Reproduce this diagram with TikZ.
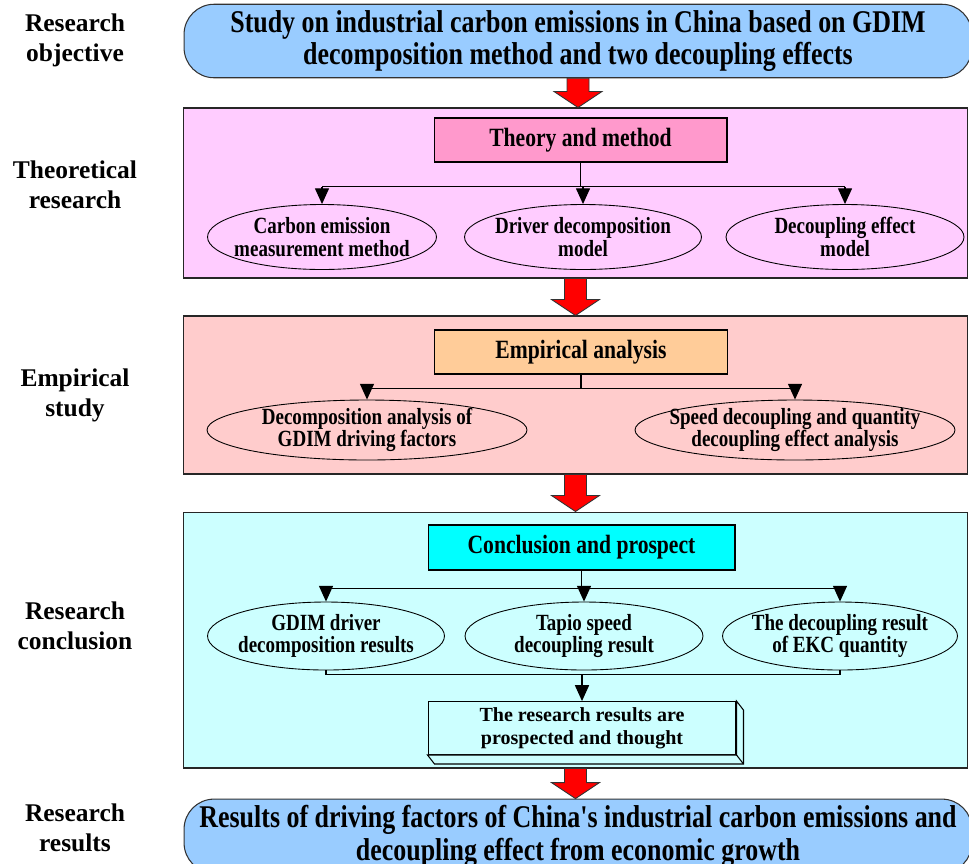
\documentclass[tikz,border=0pt]{standalone}
\usepackage{fontspec}
\setmainfont{Liberation Serif}
\newfontfamily\condfont{Liberation Serif}[FakeStretch=0.82]
\usetikzlibrary{shapes.geometric,arrows.meta,calc}

\definecolor{skyblue}{HTML}{99CCFF}
\definecolor{lilac}{HTML}{FFCCFF}
\definecolor{rosebg}{HTML}{FFCCCC}
\definecolor{icebg}{HTML}{CCFFFF}
\definecolor{pinkbox}{HTML}{FF99CC}
\definecolor{peachbox}{HTML}{FFCC99}
\definecolor{aquabox}{HTML}{00FFFF}

\tikzset{
  sidelabel/.style={align=center, font={\fontsize{14.5}{17}\selectfont\bfseries}},
  topic/.style={draw=black!80, line width=0.6pt, fill=skyblue, rounded corners=0.6cm,
    minimum width=15.76cm, minimum height=1.24cm, align=center,
    font={\condfont\fontsize{18}{18.7}\selectfont\bfseries}},
  panel/.style={draw=black!85, line width=0.6pt, minimum width=15.7cm, inner sep=0pt},
  headbox/.style={draw, line width=0.6pt, minimum width=5.86cm, minimum height=0.88cm,
    font={\condfont\fontsize{15}{16}\selectfont\bfseries}},
  item/.style={draw, ellipse, line width=0.5pt, inner xsep=-12mm, inner ysep=-5mm, align=center,
    font={\condfont\fontsize{13.2}{12.8}\selectfont\bfseries}},
  link/.style={line width=0.7pt},
  tip/.style={-{Triangle[length=9pt,width=8pt]}},
  bigarrow/.style={draw=black!80, fill=red, line width=0.5pt}
}

% red block arrow between two stacked nodes
\newcommand\bigdown[2]{%
  \filldraw[bigarrow] let \p1=(#1.south), \p2=(#2.north) in
    (\x1-0.22cm,\y1) -- (\x1+0.22cm,\y1) -- (\x1+0.22cm,\y2+0.32cm) -- (\x1+0.48cm,\y2+0.32cm)
    -- (\x1,\y2) -- (\x1-0.48cm,\y2+0.32cm) -- (\x1-0.22cm,\y2+0.32cm) -- cycle;}

\begin{document}
\begin{tikzpicture}[x=0.02cm,y=-0.02cm]
  \useasboundingbox (0,0) rectangle (969,863);
  \clip (0,0) rectangle (969,863);

  % stage names
  \node[sidelabel] (lobj) at (75,40) {Research\\objective};
  \node[sidelabel] (lthe) at (75,185) {Theoretical\\research};
  \node[sidelabel] (lemp) at (75,395) {Empirical\\study};
  \node[sidelabel] (lcon) at (75,626) {Research\\conclusion};
  \node[sidelabel] (lres) at (75,828) {Research\\results};

  % objective
  \node[topic] (obj) at (578,41) {Study on industrial carbon emissions in China based on GDIM\\decomposition method and two decoupling effects};

  % theoretical research
  \node[panel, fill=lilac, minimum height=3.4cm] (p1) at (575.5,193) {};
  \node[headbox, fill=pinkbox] (tm) at (580.5,140) {Theory and method};
  \node[item, minimum width=4.58cm, minimum height=1.3cm] (e11) at (322,237) {Carbon emission\\measurement method};
  \node[item, minimum width=4.74cm, minimum height=1.3cm] (e12) at (583,237) {Driver decomposition\\model};
  \node[item, minimum width=4.76cm, minimum height=1.3cm] (e13) at (845,237) {Decoupling effect\\model};
  \coordinate (br1) at ($(tm.south)+(0,24)$);
  \draw[link] (tm.south) -- (br1);
  \draw[link] (e11.north |- br1) -- (e13.north |- br1);
  \foreach \e in {e11,e12,e13} \draw[link,tip] (\e.north |- br1) -- (\e.north);

  % empirical study
  \node[panel, fill=rosebg, minimum height=3.16cm] (p2) at (575.5,395) {};
  \node[headbox, fill=peachbox] (ea) at (581,352) {Empirical analysis};
  \node[item, minimum width=6.4cm, minimum height=1.2cm] (e21) at (367,430) {Decomposition analysis of\\GDIM driving factors};
  \node[item, minimum width=6.4cm, minimum height=1.2cm] (e22) at (795,430) {Speed decoupling and quantity\\decoupling effect analysis};
  \coordinate (br2) at ($(ea.south)+(0,14)$);
  \draw[link] (ea.south) -- (br2);
  \draw[link] (e21.north |- br2) -- (e22.north |- br2);
  \foreach \e in {e21,e22} \draw[link,tip] (\e.north |- br2) -- (\e.north);

  % research conclusion
  \node[panel, fill=icebg, minimum height=5.12cm] (p3) at (575.5,640) {};
  \node[headbox, fill=aquabox, minimum width=6.14cm, minimum height=0.9cm] (cp) at (581.5,547.5) {Conclusion and prospect};
  \node[item, minimum width=4.74cm, minimum height=1.36cm] (e31) at (326,636) {GDIM driver\\decomposition results};
  \node[item, minimum width=4.76cm, minimum height=1.36cm] (e32) at (584,636) {Tapio speed\\decoupling result};
  \node[item, minimum width=4.7cm, minimum height=1.36cm] (e33) at (840,636) {The decoupling result\\of EKC quantity};
  \coordinate (br3) at ($(cp.south)+(0,18)$);
  \draw[link] (cp.south) -- (br3);
  \draw[link] (e31.north |- br3) -- (e33.north |- br3);
  \foreach \e in {e31,e32,e33} \draw[link,tip] (\e.north |- br3) -- (\e.north);
  \node[draw, line width=0.6pt, fill=icebg, minimum width=6.16cm, minimum height=0.98cm, align=center,
    font={\fontsize{11.4}{13}\selectfont\bfseries}] (pt) at (582,728) {The research results are\\prospected and thought};
  \draw[line width=0.6pt, fill=icebg] (pt.north east) -- ($(pt.north east)+(7,9)$) -- ($(pt.south east)+(7,9)$)
    -- ($(pt.south west)+(7,9)$) -- (pt.south west) -- (pt.south east) -- cycle;
  \draw[line width=0.6pt] (pt.south east) -- ($(pt.south east)+(7,9)$);
  \coordinate (br4) at ($(e32.south)+(0,4)$);
  \draw[link] (e31.south) -- (e31.south |- br4) -- (e33.south |- br4) -- (e33.south);
  \draw[link,tip] (pt.north |- br4) -- (pt.north);

  % results
  \node[topic] (res) at (578,836) {Results of driving factors of China's industrial carbon emissions and\\decoupling effect from economic growth};

  % flow between stages
  \bigdown{obj}{p1}
  \bigdown{p1}{p2}
  \bigdown{p2}{p3}
  \bigdown{p3}{res}
\end{tikzpicture}
\end{document}
